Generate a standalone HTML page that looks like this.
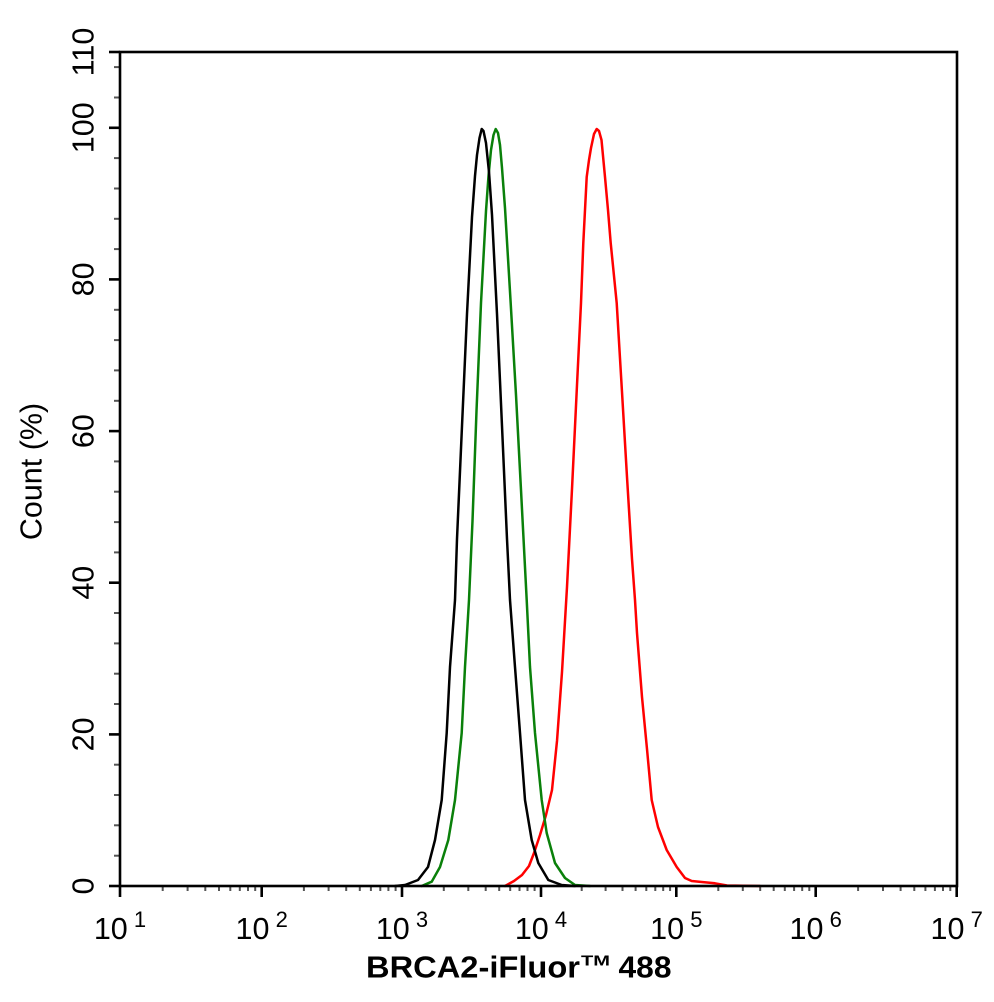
<!DOCTYPE html>
<html>
<head>
<meta charset="utf-8">
<style>
  html, body { margin: 0; padding: 0; background: #ffffff; }
  svg { display: block; }
  text { font-family: "Liberation Sans", Arial, sans-serif; fill: #000; }
</style>
</head>
<body>
<svg width="994" height="1002" viewBox="0 0 994 1002" xmlns="http://www.w3.org/2000/svg">
  <rect x="0" y="0" width="994" height="1002" fill="#ffffff"/>

  <g stroke="#555" stroke-width="2">
    <line x1="114" y1="855.7" x2="120" y2="855.7"/>
    <line x1="114" y1="825.3" x2="120" y2="825.3"/>
    <line x1="114" y1="795" x2="120" y2="795"/>
    <line x1="114" y1="764.7" x2="120" y2="764.7"/>
    <line x1="114" y1="704" x2="120" y2="704"/>
    <line x1="114" y1="673.7" x2="120" y2="673.7"/>
    <line x1="114" y1="643.4" x2="120" y2="643.4"/>
    <line x1="114" y1="613" x2="120" y2="613"/>
    <line x1="114" y1="552.4" x2="120" y2="552.4"/>
    <line x1="114" y1="522.1" x2="120" y2="522.1"/>
    <line x1="114" y1="491.7" x2="120" y2="491.7"/>
    <line x1="114" y1="461.4" x2="120" y2="461.4"/>
    <line x1="114" y1="400.8" x2="120" y2="400.8"/>
    <line x1="114" y1="370.4" x2="120" y2="370.4"/>
    <line x1="114" y1="340.1" x2="120" y2="340.1"/>
    <line x1="114" y1="309.8" x2="120" y2="309.8"/>
    <line x1="114" y1="249.1" x2="120" y2="249.1"/>
    <line x1="114" y1="218.8" x2="120" y2="218.8"/>
    <line x1="114" y1="188.5" x2="120" y2="188.5"/>
    <line x1="114" y1="158.1" x2="120" y2="158.1"/>
    <line x1="114" y1="97.5" x2="120" y2="97.5"/>
    <line x1="114" y1="67.1" x2="120" y2="67.1"/>
  </g>

  <g stroke="#555" stroke-width="2">
    <line x1="162.7" y1="886" x2="162.7" y2="891"/>
    <line x1="187.6" y1="886" x2="187.6" y2="891"/>
    <line x1="205.3" y1="886" x2="205.3" y2="891"/>
    <line x1="219.0" y1="886" x2="219.0" y2="891"/>
    <line x1="230.3" y1="886" x2="230.3" y2="891"/>
    <line x1="239.8" y1="886" x2="239.8" y2="891"/>
    <line x1="248.0" y1="886" x2="248.0" y2="891"/>
    <line x1="255.2" y1="886" x2="255.2" y2="891"/>
    <line x1="303.9" y1="886" x2="303.9" y2="891"/>
    <line x1="328.6" y1="886" x2="328.6" y2="891"/>
    <line x1="346.2" y1="886" x2="346.2" y2="891"/>
    <line x1="359.8" y1="886" x2="359.8" y2="891"/>
    <line x1="370.9" y1="886" x2="370.9" y2="891"/>
    <line x1="380.3" y1="886" x2="380.3" y2="891"/>
    <line x1="388.4" y1="886" x2="388.4" y2="891"/>
    <line x1="395.6" y1="886" x2="395.6" y2="891"/>
    <line x1="443.8" y1="886" x2="443.8" y2="891"/>
    <line x1="468.3" y1="886" x2="468.3" y2="891"/>
    <line x1="485.7" y1="886" x2="485.7" y2="891"/>
    <line x1="499.2" y1="886" x2="499.2" y2="891"/>
    <line x1="510.2" y1="886" x2="510.2" y2="891"/>
    <line x1="519.5" y1="886" x2="519.5" y2="891"/>
    <line x1="527.5" y1="886" x2="527.5" y2="891"/>
    <line x1="534.6" y1="886" x2="534.6" y2="891"/>
    <line x1="581.7" y1="886" x2="581.7" y2="891"/>
    <line x1="605.6" y1="886" x2="605.6" y2="891"/>
    <line x1="622.5" y1="886" x2="622.5" y2="891"/>
    <line x1="635.6" y1="886" x2="635.6" y2="891"/>
    <line x1="646.3" y1="886" x2="646.3" y2="891"/>
    <line x1="655.3" y1="886" x2="655.3" y2="891"/>
    <line x1="663.2" y1="886" x2="663.2" y2="891"/>
    <line x1="670.1" y1="886" x2="670.1" y2="891"/>
    <line x1="718.3" y1="886" x2="718.3" y2="891"/>
    <line x1="742.8" y1="886" x2="742.8" y2="891"/>
    <line x1="760.2" y1="886" x2="760.2" y2="891"/>
    <line x1="773.7" y1="886" x2="773.7" y2="891"/>
    <line x1="784.8" y1="886" x2="784.8" y2="891"/>
    <line x1="794.1" y1="886" x2="794.1" y2="891"/>
    <line x1="802.2" y1="886" x2="802.2" y2="891"/>
    <line x1="809.3" y1="886" x2="809.3" y2="891"/>
    <line x1="858.1" y1="886" x2="858.1" y2="891"/>
    <line x1="883.0" y1="886" x2="883.0" y2="891"/>
    <line x1="900.6" y1="886" x2="900.6" y2="891"/>
    <line x1="914.3" y1="886" x2="914.3" y2="891"/>
    <line x1="925.4" y1="886" x2="925.4" y2="891"/>
    <line x1="934.9" y1="886" x2="934.9" y2="891"/>
    <line x1="943.0" y1="886" x2="943.0" y2="891"/>
    <line x1="950.3" y1="886" x2="950.3" y2="891"/>
  </g>

  <g fill="none" stroke-width="2.5" stroke-linejoin="round" stroke-linecap="round">
    <polyline stroke="#ff0000" points="505,886 514,881 522,875 529,866 534,853 540,835 546,815 552,790 557,741 562,672 567,587 572,489 577,385 581,303 583.3,243 586.7,177 589,160 591,148 594,134 596.7,129 599,131 601.5,140 605,177 608,210 610.7,243 616.7,303 622,392 627,477 632,559 635,600 637,633 642,697 647,749 651.7,800 658,827 666.7,850 676.7,867 685,878 691.7,881 701.7,882 715,883.3 727,885.5 760,886"/>
    <polyline stroke="#0a800a" points="421.7,886 431.7,881.7 440,867 448.3,840 455,800 461.7,733 465,667 469,600 472.5,521 476.5,411 481,303 486,211 488.5,176 491,150 493.5,135 495.7,129 498,133 500,145 502,168 505,208 510.5,300 516,395 521,490 526.7,600 530,667 535,733 541.7,800 546.7,833 555,863 565,878 575,885 590,886"/>
    <polyline stroke="#000000" points="395,886 405,885 418,880 428,867 435,840 441.7,800 446.7,733 450,667 455,600 457,539 462,426 467,314 472,217 475,176 477,155 479.5,138 481.7,129 483.5,131 486,143 489,172 492,215 497,314 502,426 507,539 510,600 515,667 520,733 525,800 531.7,840 538.3,863 548.3,880 561.7,885 575,886"/>
  </g>

  <rect x="120" y="52" width="837" height="834" fill="none" stroke="#000" stroke-width="2.6"/>

  <g stroke="#000" stroke-width="2.6">
    <line x1="109" y1="886" x2="120" y2="886"/>
    <line x1="109" y1="734.4" x2="120" y2="734.4"/>
    <line x1="109" y1="582.7" x2="120" y2="582.7"/>
    <line x1="109" y1="431.1" x2="120" y2="431.1"/>
    <line x1="109" y1="279.4" x2="120" y2="279.4"/>
    <line x1="109" y1="127.8" x2="120" y2="127.8"/>
    <line x1="109" y1="52" x2="120" y2="52"/>
  </g>

  <g stroke="#000" stroke-width="2.6">
    <line x1="120" y1="886" x2="120" y2="897"/>
    <line x1="261.7" y1="886" x2="261.7" y2="897"/>
    <line x1="402" y1="886" x2="402" y2="897"/>
    <line x1="541" y1="886" x2="541" y2="897"/>
    <line x1="676.3" y1="886" x2="676.3" y2="897"/>
    <line x1="815.7" y1="886" x2="815.7" y2="897"/>
    <line x1="956.7" y1="886" x2="956.7" y2="897"/>
  </g>

  <g font-size="30.5" text-anchor="middle">
    <text transform="translate(93.5,886) rotate(-90)">0</text>
    <text transform="translate(93.5,734.4) rotate(-90)">20</text>
    <text transform="translate(93.5,582.7) rotate(-90)">40</text>
    <text transform="translate(93.5,431.1) rotate(-90)">60</text>
    <text transform="translate(93.5,279.4) rotate(-90)">80</text>
    <text transform="translate(93.5,127.8) rotate(-90)">100</text>
    <text transform="translate(93.5,52) rotate(-90)">110</text>
  </g>

  <g font-size="30.5" text-anchor="middle">
    <text x="120" y="939">10<tspan font-size="22" dy="-12"> 1</tspan></text>
    <text x="261.7" y="939">10<tspan font-size="22" dy="-12"> 2</tspan></text>
    <text x="402" y="939">10<tspan font-size="22" dy="-12"> 3</tspan></text>
    <text x="541" y="939">10<tspan font-size="22" dy="-12"> 4</tspan></text>
    <text x="676.3" y="939">10<tspan font-size="22" dy="-12"> 5</tspan></text>
    <text x="815.7" y="939">10<tspan font-size="22" dy="-12"> 6</tspan></text>
    <text x="956.7" y="939">10<tspan font-size="22" dy="-12"> 7</tspan></text>
  </g>

  <text transform="translate(41.5,471.5) rotate(-90)" font-size="30.5" text-anchor="middle">Count (%)</text>

  <text x="366" y="977.3" font-size="31" font-weight="bold" textLength="214" lengthAdjust="spacingAndGlyphs">BRCA2-iFluor</text>
  <text x="581" y="965.5" font-size="14.5" font-weight="bold" textLength="29" lengthAdjust="spacingAndGlyphs">TM</text>
  <text x="618.5" y="977.3" font-size="31" font-weight="bold" textLength="53" lengthAdjust="spacingAndGlyphs">488</text>
</svg>
</body>
</html>
